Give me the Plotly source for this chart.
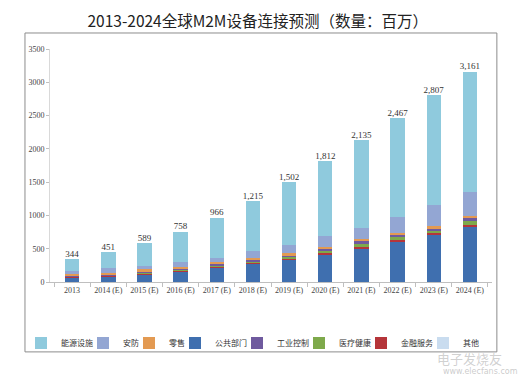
import plotly.graph_objects as go

years = ["2013", "2014 (E)", "2015 (E)", "2016 (E)", "2017 (E)", "2018 (E)",
         "2019 (E)", "2020 (E)", "2021 (E)", "2022 (E)", "2023 (E)", "2024 (E)"]

totals = [344, 451, 589, 758, 966, 1215, 1502, 1812, 2135, 2467, 2807, 3161]
total_labels = ["344", "451", "589", "758", "966", "1,215", "1,502", "1,812",
                "2,135", "2,467", "2,807", "3,161"]

public_sector = [75, 90, 120, 165, 225, 285, 345, 420, 510, 615, 720, 840]
finance = [5, 5, 5, 5, 5, 8, 8, 10, 10, 12, 15, 15]
healthcare = [10, 10, 15, 15, 20, 20, 25, 40, 50, 50, 45, 60]
industrial = [15, 10, 15, 10, 15, 15, 17, 25, 40, 28, 30, 40]
retail = [15, 20, 40, 30, 35, 32, 40, 30, 35, 30, 25, 35]
security = [45, 75, 45, 75, 60, 105, 120, 165, 165, 240, 321, 361]
energy = [179, 241, 349, 458, 606, 750, 947, 1122, 1325, 1492, 1651, 1810]
other = [0, 0, 0, 0, 0, 0, 0, 0, 0, 0, 0, 0]

# (name, values, colour, legend id)
series = [
    ("公共部门", public_sector, "#3F6FAF", "legend4"),
    ("金融服务", finance, "#B5353A", "legend7"),
    ("医疗健康", healthcare, "#7EA94B", "legend6"),
    ("工业控制", industrial, "#6F5A9E", "legend5"),
    ("零售", retail, "#E39A52", "legend3"),
    ("安防", security, "#93A6D3", "legend2"),
    ("能源设施", energy, "#8FCADD", "legend"),
    ("其他", other, "#C9DCEF", "legend8"),
]

font_fam = "Liberation Serif, Noto Sans CJK SC"

fig = go.Figure()
for name, vals, color, lg in series:
    fig.add_trace(go.Bar(x=years, y=vals, name=name, marker_color=color,
                         marker_line_width=0, legend=lg))

fig.add_trace(go.Scatter(x=years, y=totals, text=total_labels, mode="text",
                         textposition="top center", showlegend=False,
                         textfont=dict(size=9, color="#333333", family=font_fam),
                         hoverinfo="skip"))

# page is drawn with an 8px body margin, so the figure is offset by 8px
W, H = 518, 369
plot_l, plot_w = 42, 442
legend_px = {"legend": 42, "legend2": 104, "legend3": 150, "legend4": 196,
             "legend5": 258, "legend6": 320, "legend7": 382, "legend8": 444}
legends = {}
for lg, px in legend_px.items():
    legends[lg] = dict(orientation="h", x=(px - 21 - 8 - plot_l) / plot_w, xanchor="left",
                       y=-0.262, yanchor="middle", itemwidth=30,
                       font=dict(size=8, color="#333333", family="Noto Sans CJK SC"),
                       bgcolor="rgba(0,0,0,0)", borderwidth=0)

fig.update_layout(
    width=W, height=H,
    barmode="stack", bargap=0.6,
    paper_bgcolor="white", plot_bgcolor="white",
    margin=dict(l=42, r=34, t=41, b=95),
    title=dict(text="2013-2024全球M2M设备连接预测（数量：百万）",
               x=0.47, xref="paper", xanchor="center", y=0.962, yanchor="middle",
               font=dict(size=15.5, color="#222222", family="Noto Sans CJK SC")),
    font=dict(family=font_fam, size=9, color="#444444"),
    showlegend=True,
    xaxis=dict(type="category", showline=True, linecolor="#BFBFBF", linewidth=1,
               ticks="outside", tickson="boundaries", ticklen=4, tickcolor="#BFBFBF",
               tickangle=0, showgrid=False,
               tickfont=dict(size=8, color="#444444", family=font_fam)),
    yaxis=dict(range=[0, 3500], dtick=500, showline=True, linecolor="#D9D9D9",
               linewidth=1, ticks="outside", ticklen=3, tickcolor="#BFBFBF",
               showgrid=False, zeroline=False,
               tickfont=dict(size=8, color="#444444", family=font_fam)),
    shapes=[dict(type="rect", xref="paper", yref="paper",
                 x0=-0.0566, x1=1.011, y0=-0.300, y1=1.0687,
                 line=dict(color="#8C8C8C", width=1), fillcolor="rgba(0,0,0,0)",
                 layer="below")],
    annotations=[
        dict(text="电子发烧友", xref="paper", yref="paper", x=0.95, y=-0.33,
             xanchor="center", yanchor="middle",
             showarrow=False, font=dict(size=13, color="rgba(150,150,150,0.45)",
                                        family="Noto Sans CJK SC")),
        dict(text="www.elecfans.com", xref="paper", yref="paper", x=0.975, y=-0.385,
             xanchor="center", yanchor="middle",
             showarrow=False, font=dict(size=8, color="rgba(150,150,150,0.5)",
                                        family="DejaVu Sans")),
    ],
    **legends,
)

fig.write_html("out.html")
